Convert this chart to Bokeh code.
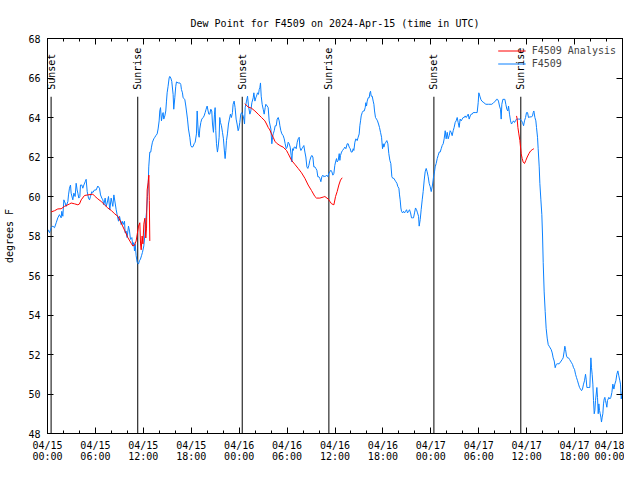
import math
import numpy as np
import pandas as pd
from bokeh.plotting import figure
from bokeh.models import (FixedTicker, LinearAxis, DatetimeAxis, Range1d, Legend,
                          LegendItem)
from bokeh.core.properties import value
from bokeh.embed import file_html
from bokeh.resources import INLINE

TITLE = "Dew Point for F4509 on 2024-Apr-15 (time in UTC)"
START = "2024-04-15 00:00"
NAN = float("nan")

# F4509 observations: hours since 04/15 00:00 UTC, dew point (deg F)
obs_hours = [
    0.04, 0.25, 0.46, 0.67, 0.88, 1.09, 1.29, 1.50, 1.71, 1.79, 1.92, 2.05, 2.21, 2.34, 2.55,
    2.63, 2.75, 2.88, 2.96, 3.17, 3.30, 3.46, 3.59, 3.71, 3.80, 3.92, 4.05, 4.13, 4.30, 4.42,
    4.55, 4.72, 4.84, 4.97, 5.13, 5.26, 5.38, 5.55, 5.68, 5.88, 6.09, 6.30, 6.51, 6.64, 6.80,
    6.93, 7.05, 7.22, 7.35, 7.47, 7.64, 7.80, 7.97, 8.18, 8.31, 8.47, 8.60, 8.72, 8.89, 9.02,
    9.22, 9.35, 9.47, 9.64, 9.72, 9.85, 9.97, 10.14, 10.27, 10.39, 10.56, 10.68, 10.81, 10.89,
    10.98, 11.10, 11.23, 11.39, 11.52, 11.64, 11.77, 11.89, 12.06, 12.18, 12.31, 12.39, 12.52,
    12.60, 12.68, 12.81, 12.93, 13.02, 13.14, 13.31, 13.44, 13.56, 13.73, 13.85, 13.98, 14.06,
    14.15, 14.27, 14.40, 14.48, 14.56, 14.69, 14.81, 14.90, 14.98, 15.10, 15.23, 15.31, 15.44,
    15.56, 15.73, 15.81, 15.94, 16.06, 16.15, 16.36, 16.57, 16.69, 16.77, 16.90, 16.98, 17.19,
    17.32, 17.40, 17.53, 17.65, 17.82, 17.94, 18.07, 18.24, 18.36, 18.49, 18.65, 18.74, 18.82,
    18.90, 18.99, 19.07, 19.20, 19.32, 19.49, 19.61, 19.74, 19.86, 19.99, 20.11, 20.20, 20.32,
    20.45, 20.57, 20.66, 20.78, 20.91, 20.99, 21.07, 21.16, 21.28, 21.37, 21.49, 21.57, 21.66,
    21.78, 21.91, 22.03, 22.16, 22.24, 22.33, 22.41, 22.53, 22.66, 22.78, 22.91, 23.03, 23.16,
    23.24, 23.37, 23.49, 23.62, 23.74, 23.87, 23.95, 24.08, 24.20, 24.33, 24.50, 24.62, 24.67,
    24.75, 24.84, 24.92, 25.05, 25.17, 25.34, 25.46, 25.59, 25.76, 25.84, 25.97, 26.09, 26.17,
    26.30, 26.42, 26.51, 26.59, 26.67, 26.76, 26.88, 27.01, 27.13, 27.26, 27.34, 27.51, 27.63,
    27.76, 27.84, 27.97, 28.09, 28.18, 28.26, 28.39, 28.51, 28.64, 28.76, 28.89, 29.01, 29.10,
    29.22, 29.35, 29.51, 29.64, 29.76, 29.89, 30.01, 30.14, 30.26, 30.39, 30.51, 30.60, 30.68,
    30.77, 30.89, 31.02, 31.14, 31.27, 31.39, 31.52, 31.60, 31.73, 31.85, 31.98, 32.10, 32.23,
    32.35, 32.48, 32.60, 32.73, 32.85, 32.98, 33.10, 33.23, 33.35, 33.48, 33.60, 33.73, 33.85,
    33.98, 34.10, 34.23, 34.35, 34.48, 34.60, 34.73, 34.86, 34.98, 35.11, 35.23, 35.36, 35.48,
    35.61, 35.73, 35.86, 35.98, 36.07, 36.19, 36.27, 36.40, 36.53, 36.61, 36.69, 36.82, 36.94,
    37.11, 37.23, 37.36, 37.53, 37.65, 37.78, 37.90, 38.03, 38.15, 38.28, 38.36, 38.49, 38.61,
    38.78, 38.90, 39.03, 39.11, 39.20, 39.28, 39.41, 39.53, 39.66, 39.78, 39.86, 39.95, 40.03,
    40.16, 40.28, 40.37, 40.45, 40.53, 40.66, 40.78, 40.87, 40.95, 41.07, 41.20, 41.32, 41.45,
    41.57, 41.70, 41.83, 41.95, 42.03, 42.12, 42.24, 42.37, 42.49, 42.62, 42.74, 42.87, 42.99,
    43.12, 43.24, 43.37, 43.50, 43.62, 43.75, 43.87, 44.00, 44.08, 44.16, 44.25, 44.33, 44.46,
    44.58, 44.71, 44.83, 44.96, 45.08, 45.21, 45.33, 45.46, 45.58, 45.71, 45.83, 45.96, 46.08,
    46.21, 46.33, 46.46, 46.54, 46.67, 46.79, 46.92, 47.04, 47.17, 47.29, 47.42, 47.54, 47.67,
    47.79, 47.92, 48.05, 48.21, 48.34, 48.46, 48.54, 48.67, 48.80, 48.92, 49.05, 49.17, 49.30,
    49.42, 49.55, 49.67, 49.80, 49.92, 50.05, 50.17, 50.30, 50.42, 50.55, 50.67, 50.80, 50.92,
    51.05, 51.17, 51.30, 51.42, 51.55, 51.67, 51.80, 51.93, 52.05, 52.18, 52.30, 52.43, 52.55,
    52.68, 52.80, 52.93, 53.05, 53.18, 53.30, 53.55, 53.80, 53.93, 54.01, 54.14, 54.26, 54.39,
    54.64, 54.89, 55.22, 55.64, 55.85, 56.10, 56.22, 56.35, 56.47, 56.60, 56.72, 56.81, 56.89,
    57.02, 57.27, 57.39, 57.52, 57.64, 57.73, 57.85, 57.98, 58.10, 58.23, 58.35, 58.48, 58.60,
    58.73, 58.94, 59.15, 59.36, 59.48, 59.61, 59.73, 59.86, 59.98, 60.11, 60.23, 60.40, 60.61,
    60.73, 60.82, 60.90, 61.03, 61.15, 61.23, 61.36, 61.44, 61.57, 61.65, 61.78, 61.90, 61.99,
    62.07, 62.19, 62.32, 62.44, 62.57, 62.70, 62.82, 62.95, 63.07, 63.20, 63.32, 63.45, 63.57,
    63.70, 63.82, 64.07, 64.32, 64.45, 64.57, 64.70, 64.78, 64.87, 64.99, 65.12, 65.24, 65.37,
    65.49, 65.62, 65.74, 65.87, 65.99, 66.12, 66.24, 66.37, 66.49, 66.62, 66.74, 66.87, 66.99,
    67.12, 67.24, 67.37, 67.45, 67.54, 67.79, 67.91, 68.04, 68.12, 68.20, 68.29, 68.37, 68.46,
    68.54, 68.62, 68.71, 68.79, 68.87, 68.96, 69.04, 69.12, 69.21, 69.29, 69.37, 69.46, 69.54,
    69.62, 69.71, 69.79, 69.87, 69.96, 70.04, 70.12, 70.21, 70.29, 70.42, 70.54, 70.67, 70.79,
    70.92, 71.04, 71.17, 71.29, 71.42, 71.54, 71.67, 71.75, 71.84, 72.00,
]
obs_dewpt = [
    58.33, 58.17, 58.42, 58.50, 58.42, 58.67, 58.92, 59.08, 58.92, 59.25, 59.00, 59.83, 59.67, 59.50, 59.75,
    60.08, 60.42, 60.58, 60.17, 59.83, 60.17, 60.00, 60.67, 60.33, 60.17, 59.92, 60.00, 60.58, 60.58, 60.42,
    60.58, 60.75, 60.87, 60.25, 59.92, 59.83, 60.00, 60.25, 60.20, 60.33, 60.33, 60.53, 60.42, 60.08, 59.92,
    59.83, 59.58, 59.92, 59.50, 59.67, 60.00, 59.33, 59.92, 59.50, 60.08, 59.67, 59.33, 59.08, 58.75, 59.00,
    58.58, 58.75, 58.58, 58.75, 58.17, 58.25, 57.92, 58.50, 58.25, 57.83, 57.92, 57.50, 57.67, 57.25,
    57.58, 57.00, 56.67, 56.58, 56.75, 56.83, 57.00, 57.17, 57.50, 58.00, 58.83, 59.17, 60.00,
    60.42, 61.50, 62.25, 62.25, 62.50, 62.75, 62.92, 63.00, 63.08, 63.17, 63.42, 63.83, 64.33,
    64.50, 63.83, 64.17, 64.25, 63.92, 64.08, 64.33, 64.83, 65.25, 65.58, 66.00, 66.08, 66.00,
    65.83, 65.17, 64.42, 65.00, 65.58, 65.80, 65.75, 65.75, 65.67, 65.42, 65.25, 65.00, 64.92,
    64.58, 64.33, 63.92, 63.42, 63.00, 62.58, 62.50, 62.53, 62.67, 62.75, 63.17, 64.33, 63.67,
    63.17, 63.00, 63.42, 63.75, 63.92, 64.00, 64.08, 64.25, 64.42, 64.58, 64.33, 64.17, 64.17,
    64.42, 64.33, 63.67, 63.25, 64.17, 64.50, 63.33, 62.67, 62.25, 62.50, 63.00, 64.00, 63.75,
    63.58, 63.25, 62.92, 62.25, 61.92, 62.33, 62.83, 63.17, 63.67, 63.92, 64.17, 64.00, 64.25,
    64.67, 64.83, 64.50, 63.92, 63.67, 63.33, 63.42, 63.75, 64.17, 64.25, 64.08, 63.83, 63.67,
    64.50, 64.67, 64.83, 65.08, 64.58, 64.17, 64.33, 64.75, 65.00, 65.25, 64.83, 65.00, 65.08,
    65.25, 65.17, 65.42, 65.50, 65.75, 65.08, 64.67, 64.42, 64.17, 64.50, 64.67, 64.58, 64.50,
    63.83, 63.67, 63.42, 62.67, 63.00, 63.17, 63.33, 63.58, 63.58, 63.92, 64.00, 63.83, 63.58,
    63.33, 63.17, 63.08, 62.92, 62.67, 62.42, 62.50, 62.75, 62.67, 62.50, 62.08, 61.75, 62.42,
    62.33, 62.50, 62.50, 62.42, 62.75, 62.92, 63.00, 62.50, 62.33, 62.42, 62.50, 62.58, 62.25,
    62.00, 61.50, 61.42, 61.58, 61.83, 62.00, 62.08, 62.00, 61.50, 61.50, 61.42, 61.33, 61.00,
    61.00, 60.92, 60.75, 61.00, 61.08, 61.00, 61.03, 61.03, 61.08, 61.00, 61.17, 61.25, 61.33,
    61.25, 61.08, 61.17, 61.58, 61.75, 61.92, 61.75, 61.83, 62.17, 61.83, 62.08, 62.25, 62.33,
    62.42, 62.50, 62.42, 62.67, 62.67, 62.50, 62.42, 62.25, 62.25, 62.42, 62.33, 62.75, 62.92,
    62.83, 63.00, 63.17, 63.58, 63.83, 64.08, 64.25, 64.33, 64.33, 64.50, 64.75, 64.58, 64.83,
    65.00, 65.00, 65.25, 65.33, 65.08, 65.08, 64.83, 64.67, 64.33, 64.00, 63.92, 63.83, 63.67,
    63.50, 63.25, 63.00, 62.42, 62.67, 62.50, 62.67, 62.75, 62.83, 62.67, 62.17, 61.83, 61.67,
    61.00, 60.92, 60.92, 60.83, 60.75, 60.67, 60.50, 60.42, 60.08, 59.83, 59.42, 59.25, 59.17,
    59.25, 59.17, 59.25, 59.33, 59.17, 59.25, 59.33, 59.17, 58.92, 58.92, 58.92, 59.17, 59.42,
    59.33, 59.17, 59.00, 58.50, 58.83, 59.33, 59.83, 60.25, 60.83, 61.25, 61.42, 61.25, 61.00,
    60.67, 60.50, 60.25, 60.58, 61.00, 61.25, 61.50, 61.67, 61.92, 62.08, 62.25, 62.25, 62.42,
    62.58, 62.67, 62.92, 63.33, 62.92, 63.25, 62.92, 63.08, 63.33, 63.25, 63.08, 63.33, 63.50,
    63.75, 63.83, 64.00, 63.75, 63.50, 63.92, 63.83, 63.92, 64.00, 64.00, 64.08, 64.00, 64.08,
    64.17, 63.92, 64.08, 64.17, 64.17, 64.25, 64.25, 64.25, 64.75, 65.25, 65.08, 64.92, 64.83,
    64.75, 64.67, 64.67, 64.67, 64.75, 64.83, 64.92, 64.92, 64.83, 64.58, 64.42, 63.92, 64.67,
    64.92, 64.92, 64.67, 64.42, 64.33, 64.58, 64.17, 63.83, 63.67, 63.75, 63.83, 63.75, 63.83,
    63.92, 63.92, 63.92, 63.83, 63.75, 63.58, 63.83, 64.00, 64.25, 64.25, 64.00, 64.03, 64.03,
    64.08, 64.25, 64.33, 64.00, 63.83, 63.50, 63.00, 62.42, 61.50, 60.67, 59.83, 59.08, 58.00,
    56.67, 55.17, 54.17, 53.33, 52.83, 52.50, 52.42, 52.33, 52.25, 52.08, 51.83, 51.67, 51.33,
    51.50, 51.53, 51.53, 51.67, 51.75, 51.83, 52.17, 52.42, 52.25, 51.92, 51.83, 51.83, 51.75,
    51.67, 51.58, 51.50, 51.33, 51.25, 51.00, 50.83, 50.67, 50.50, 50.33, 50.25, 50.17, 50.25,
    50.50, 50.67, 51.00, 50.75, 50.33, 50.33, 50.33, 51.83, 51.33, 51.00, 50.50, 49.67, 49.00,
    49.17, 49.67, 50.00, 50.33, 49.83, 49.00, 49.50, 49.17, 49.00, 48.83, 48.58, 48.83, 49.00,
    49.50, 49.75, 49.83, 49.67, 49.50, 49.33, 49.67, 49.75, 49.83, 49.75, 49.83, 50.08, 50.50,
    50.25, 50.50, 50.67, 51.00, 51.17, 50.92, 50.67, 50.50, 49.75, 50.17,
]

# F4509 Analysis (NaN separates the three analysis periods)
ana_hours = [
    0.46, 0.88, 1.29, 1.71, 2.13, 2.75, 2.96, 3.38, 3.80, 4.00, 4.22, 4.63, 5.05, 5.68, 5.88,
    6.30, 6.72, 7.14, 7.55, 7.97, 8.39, 8.81, 9.22, 9.64, 10.06, 10.48, 10.68, 10.89, 11.10,
    11.23, 11.40, 11.56, 11.65, 11.73, 11.85, 11.95, 12.06, 12.19, 12.31, 12.40, 12.48, 12.60,
    12.69, 12.75, 12.81, NAN,
    24.71, 25.13, 25.55, 25.97, 26.38, 26.80, 27.22, 27.43, 27.63, 27.84, 28.05, 28.26, 28.47,
    28.68, 29.10, 29.51, 29.93, 30.14, 30.56, 30.97, 31.39, 31.81, 32.23, 32.64, 33.06, 33.48,
    33.69, 34.10, 34.52, 34.73, 35.15, 35.36, 35.57, 35.86, 36.07, 36.27, 36.48, 36.69, 36.90,
    NAN,
    58.73, 58.81, 58.90, 59.02, 59.15, 59.23, 59.31, 59.44, 59.56, 59.73, 59.90, 60.07, 60.28,
    60.48, 60.69, 60.90,
]
ana_dewpt = [
    59.22, 59.28, 59.37, 59.38, 59.50, 59.62, 59.67, 59.63, 59.58, 59.62, 59.83, 60.05, 60.08, 60.12, 60.03,
    59.88, 59.75, 59.58, 59.42, 59.30, 59.13, 59.00, 58.67, 58.30, 57.92, 57.63, 57.50, 57.53, 57.75,
    58.08, 58.50, 58.67, 57.60, 57.30, 58.00, 57.60, 58.60, 58.90, 57.90, 58.40, 60.33, 60.70,
    61.08, 59.80, 57.75, NAN,
    64.70, 64.53, 64.47, 64.33, 64.17, 64.00, 63.83, 63.67, 63.50, 63.37, 63.17, 63.00, 62.80,
    62.70, 62.58, 62.50, 62.33, 62.17, 61.83, 61.63, 61.42, 61.20, 60.92, 60.58, 60.30, 60.00,
    59.92, 59.92, 59.97, 60.00, 59.87, 59.75, 59.63, 59.58, 60.00, 60.25, 60.58, 60.83, 60.95,
    NAN,
    64.08, 63.92, 63.50, 63.17, 62.83, 62.50, 62.17, 61.92, 61.75, 61.67, 61.83, 62.00, 62.17,
    62.30, 62.37, 62.42,
]

sun_labels = ["Sunset", "Sunrise", "Sunset", "Sunrise", "Sunset", "Sunrise"]
sun_times = ["2024-04-15 00:27", "2024-04-15 11:18", "2024-04-16 00:23",
             "2024-04-16 11:14", "2024-04-17 00:23", "2024-04-17 11:16"]

x_tick_hours = [0, 6, 12, 18, 24, 30, 36, 42, 48, 54, 60, 66, 72]
x_tick_labels = ["04/15\n00:00", "04/15\n06:00", "04/15\n12:00", "04/15\n18:00",
                 "04/16\n00:00", "04/16\n06:00", "04/16\n12:00", "04/16\n18:00",
                 "04/17\n00:00", "04/17\n06:00", "04/17\n12:00", "04/17\n18:00",
                 "04/18\n00:00"]
x_minor_step_hours = 2
y_ticks = [48, 50, 52, 54, 56, 58, 60, 62, 64, 66, 68]

FONT = "DejaVu Sans Mono"
BLUE = "#0a80ff"
RED = "#ff0000"

start_ms = pd.Timestamp(START).value / 1e6
HOUR_MS = 3600.0 * 1000.0


def to_ms(hours):
    return start_ms + np.asarray(hours, dtype=float) * HOUR_MS


obs_x = to_ms(obs_hours)
ana_x = to_ms(ana_hours)
sun_x = np.array([pd.Timestamp(t).value / 1e6 for t in sun_times])
major_ms = [float(v) for v in to_ms(x_tick_hours)]
minor_ms = [float(v) for v in to_ms(np.arange(x_tick_hours[0], x_tick_hours[-1] + 0.1, x_minor_step_hours))]

y0, y1 = y_ticks[0], y_ticks[-1]

p = figure(width=624, height=464, x_axis_type="datetime",
           x_range=Range1d(major_ms[0], major_ms[-1]), y_range=Range1d(y0, y1),
           output_backend="svg", toolbar_location=None,
           min_border_left=47, min_border_right=2, min_border_top=38, min_border_bottom=0)

p.title.text = TITLE
p.title.align = "center"
p.title.text_font = FONT
p.title.text_font_size = "10px"
p.title.text_font_style = "normal"
p.title.text_color = "black"
p.title.standoff = 20

p.xgrid.visible = False
p.ygrid.visible = False
p.outline_line_color = "black"
p.outline_line_width = 1
p.background_fill_color = "white"
p.border_fill_color = "white"

xt = FixedTicker(ticks=major_ms, minor_ticks=minor_ms)
yt = FixedTicker(ticks=y_ticks, minor_ticks=[])

for ax in p.xaxis:
    ax.ticker = xt
    ax.major_label_overrides = {m: lab for m, lab in zip(major_ms, x_tick_labels)}
    ax.major_tick_in = 6
    ax.major_tick_out = 0
    ax.minor_tick_in = 3
    ax.minor_tick_out = 0
    ax.major_label_standoff = 6
    ax.major_label_text_font = FONT
    ax.major_label_text_font_size = "10px"
    ax.major_label_text_line_height = 1.0
    ax.major_label_text_color = "black"
    ax.axis_line_color = "black"

for ax in p.yaxis:
    ax.ticker = yt
    ax.major_tick_in = 6
    ax.major_tick_out = 0
    ax.minor_tick_in = 0
    ax.minor_tick_out = 0
    ax.major_label_standoff = 7
    ax.major_label_text_font = FONT
    ax.major_label_text_font_size = "10px"
    ax.major_label_text_color = "black"
    ax.axis_label = "degrees F"
    ax.axis_label_text_font = FONT
    ax.axis_label_text_font_size = "10px"
    ax.axis_label_text_font_style = "normal"
    ax.axis_label_text_color = "black"
    ax.axis_label_standoff = 10
    ax.axis_line_color = "black"

empty_x = {m: "" for m in major_ms}
empty_y = {t: "" for t in y_ticks}
top_axis = DatetimeAxis(ticker=xt, major_tick_in=6, major_tick_out=0, minor_tick_in=3,
                        minor_tick_out=0, major_label_text_font_size="0px",
                        major_label_overrides=empty_x, major_label_standoff=0,
                        axis_label_standoff=0)
right_axis = LinearAxis(ticker=yt, major_tick_in=6, major_tick_out=0, minor_tick_in=0,
                        minor_tick_out=0, major_label_text_font_size="0px",
                        major_label_overrides=empty_y, major_label_standoff=0,
                        axis_label_standoff=0)
p.add_layout(top_axis, "above")
p.add_layout(right_axis, "right")

# sunrise / sunset markers
line_top = y0 + 0.8525 * (y1 - y0)
label_base = y0 + 0.87 * (y1 - y0)
p.segment(x0=sun_x, y0=[y0] * len(sun_x), x1=sun_x, y1=[line_top] * len(sun_x),
          line_color="black", line_width=1)
p.text(x=sun_x, y=[label_base] * len(sun_x), text=sun_labels, angle=math.pi / 2,
       text_align="left", text_baseline="middle", text_font=value(FONT),
       text_font_size="10px", text_color="black")

r_obs = p.line(obs_x, obs_dewpt, line_color=BLUE, line_width=1)
r_ana = p.line(ana_x, ana_dewpt, line_color=RED, line_width=1)

legend = Legend(items=[LegendItem(label="F4509 Analysis", renderers=[r_ana]),
                       LegendItem(label="F4509", renderers=[r_obs])],
                location="top_right", border_line_alpha=0, background_fill_alpha=0,
                label_text_font=FONT, label_text_font_size="10px",
                glyph_width=28, glyph_height=13, label_height=13, spacing=0,
                padding=2, margin=4, label_standoff=6)
p.add_layout(legend)

open("out.html", "w").write(file_html(p, INLINE))
